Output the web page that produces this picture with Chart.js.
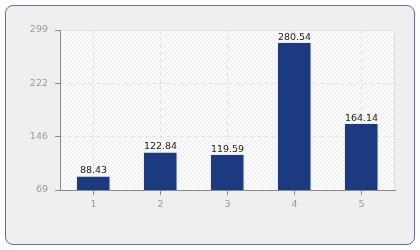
<!DOCTYPE html>
<html>
<head>
<meta charset="utf-8">
<script src="https://cdn.jsdelivr.net/npm/chart.js@4"></script>
<style>
  body { margin: 0; background: #fff; }
  #wrap { position: relative; width: 420px; height: 250px; }
  #frame {
    position: absolute; left: 5px; top: 5px; width: 408px; height: 238px;
    border: 1px solid #5a72a8; border-radius: 8px; background: #efefef;
  }
  #chart { position: absolute; left: 0; top: 0; }
</style>
</head>
<body>
<div id="wrap">
  <div id="frame"></div>
  <canvas id="chart" width="420" height="250"></canvas>
</div>
<script>
const categories = ["1", "2", "3", "4", "5"];
const values = [88.43, 122.84, 119.59, 280.54, 164.14];
const yTicks = [69, 146, 222, 299];

// striped background + light border of the plot area
const plotBackground = {
    id: "plotBackground",
    beforeDraw(chart) {
        const { ctx, chartArea: a } = chart;
        const tile = document.createElement("canvas");
        tile.width = 4; tile.height = 4;
        const t = tile.getContext("2d");
        t.fillStyle = "#fbfbfb";
        t.fillRect(0, 0, 4, 4);
        t.strokeStyle = "#ebebeb";
        t.lineWidth = 1;
        t.beginPath();
        t.moveTo(0, 4); t.lineTo(4, 0);
        t.moveTo(-1, 1); t.lineTo(1, -1);
        t.moveTo(3, 5); t.lineTo(5, 3);
        t.stroke();
        ctx.save();
        ctx.fillStyle = ctx.createPattern(tile, "repeat");
        ctx.fillRect(a.left, a.top, a.right - a.left, a.bottom - a.top);
        ctx.strokeStyle = "#dddddd";
        ctx.lineWidth = 1;
        ctx.strokeRect(a.left + 0.5, a.top + 0.5, a.right - a.left - 1, a.bottom - a.top);
        ctx.restore();
    },
};

// value labels above bars
const valueLabels = {
    id: "valueLabels",
    afterDatasetsDraw(chart) {
        const { ctx } = chart;
        const meta = chart.getDatasetMeta(0);
        ctx.save();
        ctx.font = "9.5px 'DejaVu Sans'";
        ctx.fillStyle = "#222";
        ctx.textAlign = "center";
        ctx.textBaseline = "bottom";
        meta.data.forEach((bar, i) => {
            ctx.fillText(values[i].toFixed(2), bar.x, bar.y - 1);
        });
        ctx.restore();
    },
};

new Chart(document.getElementById("chart"), {
    type: "bar",
    data: {
        labels: categories,
        datasets: [
            {
                data: values,
                backgroundColor: "#1b3a7f",
                borderColor: "#8c9cc4",
                borderWidth: { right: 1, left: 0, top: 0, bottom: 0 },
                borderSkipped: false,
                barPercentage: 0.5,
                categoryPercentage: 1,
            },
        ],
    },
    options: {
        responsive: false,
        animation: false,
        layout: { padding: { top: 30, right: 25, left: 0, bottom: 0 } },
        plugins: {
            legend: { display: false },
            tooltip: { enabled: false },
        },
        scales: {
            x: {
                grid: {
                    offset: false,
                    color: "#e2e2e2",
                    tickColor: "#888",
                    tickLength: 5,
                },
                border: { color: "#888", dash: [4, 3] },
                ticks: {
                    color: "#999",
                    padding: 4,
                    font: { family: "DejaVu Sans", size: 9.5 },
                },
                afterFit: (s) => { s.height = 60; },
            },
            y: {
                min: 69,
                max: 299,
                afterBuildTicks: (s) => { s.ticks = yTicks.map((v) => ({ value: v })); },
                grid: {
                    color: "#e2e2e2",
                    tickColor: "#888",
                    tickLength: 5,
                },
                border: { color: "#888", dash: [4, 3] },
                ticks: {
                    color: "#999",
                    padding: 7,
                    font: { family: "DejaVu Sans", size: 9.5 },
                },
                afterFit: (s) => { s.width = 60; },
            },
        },
    },
    plugins: [plotBackground, valueLabels],
});
</script>
</body>
</html>
